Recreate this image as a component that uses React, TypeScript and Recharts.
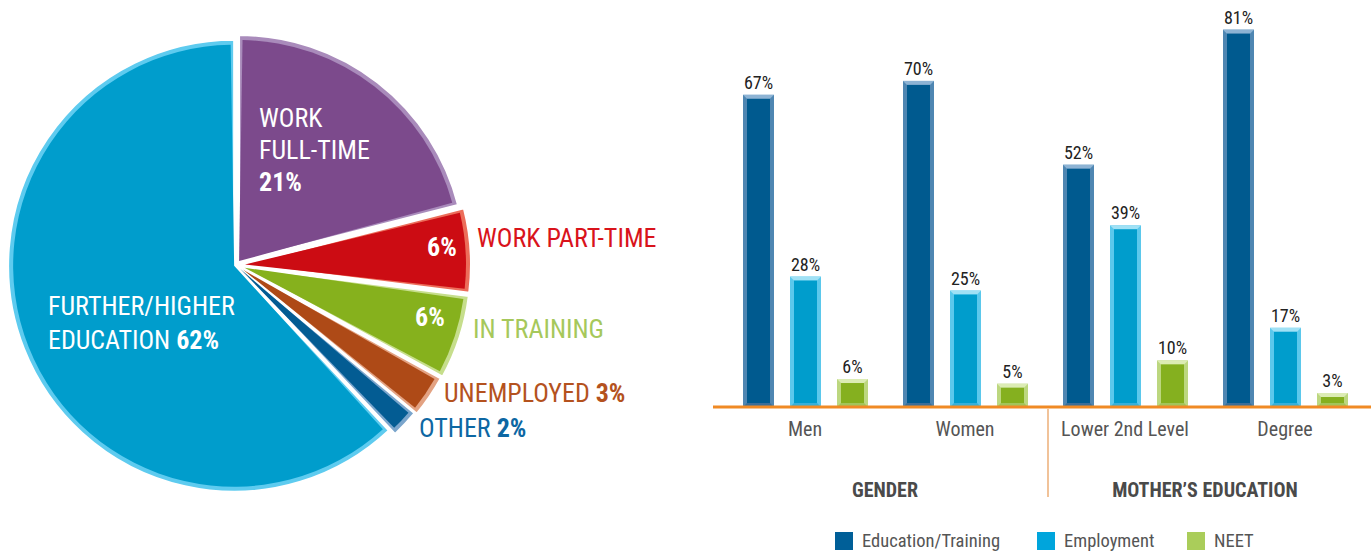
import { Bar, BarChart, Cell, LabelList, Legend, Pie, PieChart, Sector, XAxis, YAxis } from "recharts";

// pie: destination of school leavers
const pieNames = ["Work full-time", "Work part-time", "In training", "Unemployed", "Other", "Further/higher education"];
const pieValues = [21, 6, 6, 3, 2, 62];

// bars: status by gender and mother's education
const barCategories = ["Men", "Women", "Lower 2nd Level", "Degree"];
const educationTraining = [67, 70, 52, 81];
const employment = [28, 25, 39, 17];
const neet = [6, 5, 10, 3];
const groupNames = ["GENDER", "MOTHER\u2019S EDUCATION"];
const groupOfCategory = [0, 0, 1, 1];

const FONT = "'Roboto Condensed', Roboto, sans-serif";

const sliceStyles = [
  { fill: "#7c4a8c", bevel: "#a98bbb", explode: 5 },
  { fill: "#cc0c13", bevel: "#ec6d5a", explode: 9 },
  { fill: "#86b11d", bevel: "#c6de8c", explode: 9 },
  { fill: "#ae4a17", bevel: "#e3a282", explode: 8 },
  { fill: "#035c93", bevel: "#7aa5cc", explode: 6 },
  { fill: "#009dcc", bevel: "#5ecbef", explode: 2 },
];

type Line = { text: string; bold?: string; dy: number };
const pieLabelLayout: { dx: number; color: string; lines: Line[] }[][] = [
  [
    {
      dx: 23,
      color: "#fff",
      lines: [
        { text: "WORK", dy: -138 },
        { text: "FULL-TIME", dy: -106 },
        { text: "", bold: "21%", dy: -74 },
      ],
    },
  ],
  [
    { dx: 191, color: "#fff", lines: [{ text: "", bold: "6%", dy: -9 }] },
    { dx: 241, color: "#d9131b", lines: [{ text: "WORK PART-TIME", dy: -18 }] },
  ],
  [
    { dx: 179, color: "#fff", lines: [{ text: "", bold: "6%", dy: 61 }] },
    { dx: 237, color: "#a6c85b", lines: [{ text: "IN TRAINING", dy: 73 }] },
  ],
  [{ dx: 208, color: "#b4521e", lines: [{ text: "UNEMPLOYED ", bold: "3%", dy: 137 }] }],
  [{ dx: 183, color: "#0d67a3", lines: [{ text: "OTHER ", bold: "2%", dy: 172 }] }],
  [
    {
      dx: -188,
      color: "#fff",
      lines: [
        { text: "FURTHER/HIGHER", dy: 50 },
        { text: "EDUCATION ", bold: "62%", dy: 84 },
      ],
    },
  ],
];

const barStyles = {
  edu: { main: "#005a8f", side: "#4f86b2", top: "#8db3d4", bottom: "#3a6e98", legend: "#005f98" },
  emp: { main: "#009dcc", side: "#5bc8ec", top: "#a0e1f5", bottom: "#36b0da", legend: "#00a5dc" },
  neet: { main: "#85b01f", side: "#bcd77f", top: "#dcecb4", bottom: "#a2c45a", legend: "#aacd5a" },
};

const pieData = pieNames.map((name, i) => ({ name, value: pieValues[i] }));

const barData = barCategories.map((c, i) => ({
  category: c,
  edu: educationTraining[i],
  emp: employment[i],
  neet: neet[i],
}));

function renderSlice(props: any) {
  const { cx, cy, outerRadius, startAngle, endAngle, midAngle } = props;
  const name = props.name ?? props.payload?.name;
  const st = sliceStyles[pieNames.indexOf(name)] ?? sliceStyles[0];
  const rad = (-midAngle * Math.PI) / 180;
  const ox = cx + st.explode * Math.cos(rad);
  const oy = cy + st.explode * Math.sin(rad);
  const shrink = 0.9;
  return (
    <g>
      <Sector
        cx={ox}
        cy={oy}
        innerRadius={0}
        outerRadius={outerRadius}
        startAngle={startAngle}
        endAngle={endAngle}
        fill={st.bevel}
        stroke="#fff"
        strokeWidth={2}
      />
      <Sector
        cx={ox}
        cy={oy}
        innerRadius={0}
        outerRadius={outerRadius - 5}
        startAngle={startAngle - shrink}
        endAngle={endAngle + shrink}
        fill={st.fill}
      />
    </g>
  );
}

function renderPieLabel(props: any) {
  const { cx, cy, index } = props;
  const blocks = pieLabelLayout[index] ?? [];
  return (
    <g>
      {blocks.map((b, bi) =>
        b.lines.map((l, li) => (
          <text
            key={`${bi}-${li}`}
            x={cx + b.dx}
            y={cy + l.dy}
            fill={b.color}
            fontSize={26}
            fontFamily={FONT}
          >
            {l.text}
            {l.bold ? <tspan fontWeight="bold">{l.bold}</tspan> : null}
          </text>
        ))
      )}
    </g>
  );
}

function bevelBar(style: typeof barStyles.edu) {
  return (props: any) => {
    const { x, y, width, height } = props;
    if (!height || height <= 0) return <g />;
    const b = Math.min(4, height / 2);
    return (
      <g>
        <rect x={x} y={y} width={width} height={height} fill={style.side} />
        <polygon
          points={`${x},${y} ${x + width},${y} ${x + width - b},${y + b} ${x + b},${y + b}`}
          fill={style.top}
        />
        <polygon
          points={`${x},${y + height} ${x + width},${y + height} ${x + width - b},${y + height - b} ${x + b},${y + height - b}`}
          fill={style.bottom}
        />
        <rect x={x + b} y={y + b} width={width - 2 * b} height={height - 2 * b} fill={style.main} />
      </g>
    );
  };
}

function CategoryTick(props: any) {
  const { x, y, payload, index } = props;
  const half = payload.offset ?? 80;
  const g = groupOfCategory[index];
  const firstOfGroup = groupOfCategory.indexOf(g) === index;
  return (
    <g>
      <text x={x} y={y + 27} textAnchor="middle" fill="#555" fontSize={20} fontFamily={FONT}>
        {payload.value}
      </text>
      {firstOfGroup ? (
        <text
          x={x + half}
          y={y + 88}
          textAnchor="middle"
          fill="#4a4a4a"
          fontSize={20}
          fontWeight="bold"
          fontFamily={FONT}
        >
          {groupNames[g]}
        </text>
      ) : null}
      {firstOfGroup && index > 0 ? (
        <line x1={x - half + 3} x2={x - half + 3} y1={y} y2={y + 88} stroke="#e89a55" strokeWidth={1.2} />
      ) : null}
    </g>
  );
}

const legendItems = [
  { label: "Education/Training", color: barStyles.edu.legend, width: 202 },
  { label: "Employment", color: barStyles.emp.legend, width: 150 },
  { label: "NEET", color: barStyles.neet.legend, width: 80 },
];

function BarLegend() {
  return (
    <div style={{ display: "flex", height: 26, alignItems: "center", fontFamily: FONT }}>
      {legendItems.map((it) => (
        <div key={it.label} style={{ display: "flex", alignItems: "center", width: it.width }}>
          <span style={{ width: 18, height: 18, background: it.color, marginRight: 9 }} />
          <span style={{ fontSize: 18.5, color: "#555" }}>{it.label}</span>
        </div>
      ))}
    </div>
  );
}

export default function App() {
  return (
    <div style={{ position: "relative", width: 1371, height: 554, background: "#fff", fontFamily: FONT }}>
      <style>{"body{margin:0;}"}</style>
      <div style={{ position: "absolute", left: 0, top: 0 }}>
        <PieChart width={700} height={554} margin={{ top: 0, right: 0, bottom: 0, left: 0 }}>
          <Pie
            data={pieData}
            dataKey="value"
            nameKey="name"
            cx={236}
            cy={265}
            innerRadius={0}
            outerRadius={226}
            startAngle={90}
            endAngle={-270}
            stroke="none"
            shape={renderSlice}
            activeShape={renderSlice}
            inactiveShape={renderSlice}
            label={renderPieLabel}
            labelLine={false}
            isAnimationActive={false}
          >
            {pieData.map((d, i) => (
              <Cell key={d.name} fill={sliceStyles[i].fill} />
            ))}
          </Pie>
        </PieChart>
      </div>
      <div style={{ position: "absolute", left: 680, top: 0 }}>
        <BarChart
          width={691}
          height={554}
          data={barData}
          margin={{ top: 11, right: 0, left: 33, bottom: 0 }}
          barSize={31}
          barGap={16}
        >
          <XAxis
            dataKey="category"
            height={121}
            padding={{ left: 12, right: 6 }}
            axisLine={{ stroke: "#f08a24", strokeWidth: 3 }}
            tickLine={false}
            tickSize={0}
            tick={<CategoryTick />}
            interval={0}
          />
          <YAxis hide domain={[0, 85]} />
          <Legend
            verticalAlign="bottom"
            content={<BarLegend />}
            wrapperStyle={{ left: 155, bottom: 0, width: 460, height: 26 }}
          />
          <Bar dataKey="edu" name="Education/Training" fill={barStyles.edu.main} shape={bevelBar(barStyles.edu)} isAnimationActive={false}>
            <LabelList dataKey="edu" position="top" offset={6} formatter={(v: any) => `${v}%`} fill="#222" fontSize={18} fontFamily={FONT} />
          </Bar>
          <Bar dataKey="emp" name="Employment" fill={barStyles.emp.main} shape={bevelBar(barStyles.emp)} isAnimationActive={false}>
            <LabelList dataKey="emp" position="top" offset={6} formatter={(v: any) => `${v}%`} fill="#222" fontSize={18} fontFamily={FONT} />
          </Bar>
          <Bar dataKey="neet" name="NEET" fill={barStyles.neet.main} shape={bevelBar(barStyles.neet)} isAnimationActive={false}>
            <LabelList dataKey="neet" position="top" offset={6} formatter={(v: any) => `${v}%`} fill="#222" fontSize={18} fontFamily={FONT} />
          </Bar>
        </BarChart>
      </div>
    </div>
  );
}
